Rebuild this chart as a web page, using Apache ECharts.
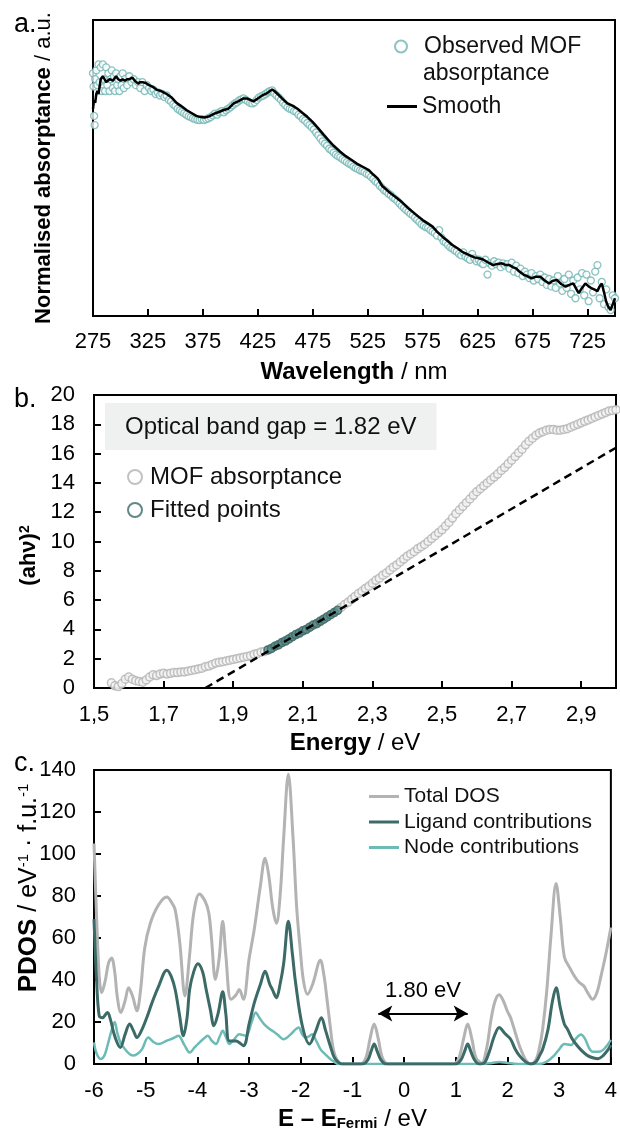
<!DOCTYPE html>
<html>
<head>
<meta charset="utf-8">
<script src="https://cdn.jsdelivr.net/npm/echarts@6/dist/echarts.min.js"></script>
<style>
  html, body { margin: 0; padding: 0; background: #fff; }
  #chart { width: 620px; height: 1132px; }
</style>
</head>
<body>
<div id="chart"></div>
<script>
// panel a: observed absorptance (wavelength nm, normalised) and smoothed trace
const wlTicks = [275, 325, 375, 425, 475, 525, 575, 625, 675, 725];
const observed = [
  [275,0.82],[275.5,0.775],[276,0.676],[276.5,0.645],[277,0.80],[278,0.83],[279,0.78],[280,0.85],[281,0.79],[282,0.84],
  [283,0.76],[284,0.85],[285,0.80],[286,0.76],[287,0.84],[288,0.78],[289,0.82],[290,0.76],[291,0.80],[292,0.83],
  [293,0.77],[294,0.81],[295,0.76],[296,0.82],[297,0.78],[298,0.80],[299,0.76],[300,0.81],[301,0.78],[302,0.82],
  [303,0.77],[304,0.80],[306,0.78],[308,0.81],[310,0.79],[312,0.80],[314,0.78],[316,0.79],[318,0.77],[320,0.79],
  [322,0.76],[324,0.78],[326,0.77],[328,0.76],[330,0.765],[332,0.75],[334,0.755],[336,0.745],[338,0.75],[340,0.74],
  [342,0.745],[344,0.73],[346,0.725],[348,0.715],[350,0.71],[352,0.70],[354,0.695],[356,0.69],[358,0.685],[360,0.68],
  [362,0.675],[364,0.672],[366,0.668],[368,0.665],[370,0.663],[372,0.662],[374,0.665],[376,0.662],[378,0.665],[380,0.668],
  [382,0.672],[384,0.678],[386,0.684],[388,0.68],[390,0.688],[392,0.692],[394,0.688],[396,0.695],[398,0.70],[400,0.705],
  [402,0.712],[404,0.718],[406,0.722],[408,0.728],[410,0.732],[412,0.735],[414,0.73],[416,0.725],[418,0.72],[420,0.718],
  [422,0.722],[424,0.73],[426,0.738],[428,0.742],[430,0.745],[432,0.75],[434,0.755],[436,0.76],[438,0.762],[440,0.752],
  [442,0.745],[444,0.738],[446,0.73],[448,0.72],[450,0.712],[452,0.705],[454,0.70],[456,0.698],[458,0.692],[460,0.69],
  [462,0.68],[464,0.675],[466,0.665],[468,0.66],[470,0.652],[472,0.645],[474,0.638],[476,0.63],[478,0.62],[480,0.61],
  [482,0.60],[484,0.59],[486,0.582],[488,0.575],[490,0.565],[492,0.56],[494,0.552],[496,0.545],[498,0.54],[500,0.536],
  [502,0.53],[504,0.525],[506,0.52],[508,0.515],[510,0.512],[512,0.505],[514,0.50],[516,0.497],[518,0.492],[520,0.49],
  [522,0.486],[524,0.48],[526,0.477],[528,0.47],[530,0.463],[532,0.455],[534,0.45],[536,0.44],[538,0.433],[540,0.425],
  [542,0.42],[544,0.413],[546,0.408],[548,0.40],[550,0.395],[552,0.388],[554,0.38],[556,0.372],[558,0.365],[560,0.358],
  [562,0.352],[564,0.345],[566,0.34],[568,0.332],[570,0.325],[572,0.318],[574,0.31],[576,0.305],[578,0.30],[580,0.298],
  [582,0.29],[584,0.285],[586,0.28],[588,0.272],[590,0.29],[592,0.265],[594,0.252],[596,0.248],[598,0.24],[600,0.232],
  [602,0.228],[604,0.222],[606,0.218],[608,0.21],[610,0.205],[612,0.215],[614,0.20],[616,0.195],[618,0.19],[620,0.21],
  [622,0.195],[624,0.185],[626,0.19],[628,0.18],[630,0.175],[632,0.19],[634,0.14],[636,0.178],[638,0.17],[640,0.185],
  [642,0.175],[644,0.18],[646,0.165],[648,0.178],[650,0.17],[652,0.175],[654,0.16],[656,0.18],[658,0.15],[660,0.17],
  [662,0.145],[664,0.16],[666,0.135],[668,0.15],[670,0.14],[672,0.128],[674,0.145],[676,0.12],[678,0.135],[680,0.125],
  [682,0.14],[684,0.115],[686,0.13],[688,0.105],[690,0.125],[692,0.10],[694,0.12],[696,0.095],[698,0.135],[700,0.11],
  [702,0.085],[704,0.125],[706,0.095],[708,0.14],[710,0.075],[712,0.12],[714,0.06],[716,0.13],[718,0.09],[720,0.145],
  [722,0.07],[724,0.14],[726,0.05],[728,0.12],[730,0.08],[732,0.15],[734,0.172],[736,0.06],[738,0.115],[740,0.04],
  [742,0.09],[744,0.03],[746,0.02],[748,0.07],[750,0.06]
];
const smoothed = [
  [275,0.70],[276,0.73],[277,0.72],[278,0.75],[279,0.76],[280,0.75],[282,0.80],[284,0.81],[285,0.815],[287,0.79],
  [288,0.785],[290,0.80],[291,0.80],[293,0.795],[296,0.81],[298,0.80],[300,0.795],[302,0.80],[304,0.795],[306,0.80],
  [308,0.80],[311,0.805],[313,0.795],[316,0.785],[318,0.79],[320,0.79],[323,0.787],[326,0.78],[329,0.775],[333,0.764],
  [337,0.76],[342,0.75],[346,0.74],[351,0.72],[355,0.71],[360,0.696],[365,0.685],[369,0.676],[373,0.672],[377,0.671],
  [381,0.675],[385,0.683],[390,0.69],[394,0.696],[398,0.70],[403,0.718],[407,0.725],[412,0.735],[415,0.735],[418,0.73],
  [421,0.725],[425,0.735],[429,0.745],[433,0.752],[436,0.76],[438,0.765],[440,0.76],[443,0.75],[447,0.735],[452,0.718],
  [457,0.71],[461,0.70],[466,0.685],[470,0.673],[475,0.655],[480,0.634],[485,0.612],[489,0.595],[494,0.575],[500,0.555],
  [505,0.54],[510,0.528],[515,0.515],[520,0.505],[526,0.493],[530,0.478],[534,0.465],[538,0.44],[544,0.42],[550,0.403],
  [556,0.385],[562,0.364],[568,0.345],[575,0.324],[580,0.312],[584,0.302],[588,0.285],[593,0.268],[597,0.256],[602,0.24],
  [607,0.228],[611,0.217],[616,0.208],[622,0.198],[626,0.195],[630,0.191],[635,0.18],[639,0.172],[643,0.176],[647,0.178],
  [651,0.172],[654,0.172],[657,0.165],[660,0.161],[663,0.15],[667,0.139],[670,0.135],[674,0.127],[678,0.133],[682,0.133],
  [686,0.12],[690,0.11],[693,0.118],[697,0.122],[701,0.108],[705,0.099],[709,0.106],[712,0.11],[715,0.09],[717,0.077],
  [720,0.095],[723,0.11],[726,0.10],[729,0.093],[732,0.088],[734,0.084],[736,0.10],[738,0.11],[740,0.08],[742,0.048],
  [744,0.03],[746,0.02],[748,0.04],[750,0.06]
];

// panel b: Tauc plot, energy eV vs (ahv)^2
const energyTicks = [1.5, 1.7, 1.9, 2.1, 2.3, 2.5, 2.7, 2.9];
const tauc = [
  [1.55,0.35],[1.56,0.15],[1.57,0.1],[1.58,0.3],[1.59,0.6],[1.60,0.75],[1.61,0.6],[1.62,0.5],[1.63,0.45],[1.64,0.4],
  [1.65,0.55],[1.66,0.75],[1.67,0.9],[1.68,0.85],[1.69,0.95],[1.70,1.0],[1.71,0.95],[1.72,1.0],[1.73,1.05],[1.74,1.05],
  [1.75,1.1],[1.76,1.1],[1.77,1.15],[1.78,1.2],[1.79,1.25],[1.80,1.3],[1.81,1.35],[1.82,1.45],[1.83,1.5],[1.84,1.6],
  [1.85,1.7],[1.86,1.75],[1.87,1.8],[1.88,1.85],[1.89,1.9],[1.90,1.95],[1.91,2.0],[1.92,2.05],[1.93,2.1],[1.94,2.15],
  [1.95,2.2],[1.96,2.3],[1.97,2.35],[1.98,2.45],[1.99,2.5],[2.00,2.6],[2.01,2.7],[2.02,2.85],[2.03,2.95],[2.04,3.1],
  [2.05,3.2],[2.06,3.35],[2.07,3.5],[2.08,3.65],[2.09,3.75],[2.10,3.9],[2.11,4.0],[2.12,4.15],[2.13,4.3],[2.14,4.4],
  [2.15,4.55],[2.16,4.7],[2.17,4.85],[2.18,5.0],[2.19,5.15],[2.20,5.3],[2.21,5.5],[2.22,5.7],[2.23,5.85],[2.24,6.05],
  [2.25,6.25],[2.26,6.45],[2.27,6.6],[2.28,6.8],[2.29,6.95],[2.30,7.15],[2.31,7.35],[2.32,7.5],[2.33,7.7],[2.34,7.85],
  [2.35,8.05],[2.36,8.25],[2.37,8.4],[2.38,8.6],[2.39,8.8],[2.40,9.0],[2.41,9.15],[2.42,9.3],[2.43,9.5],[2.44,9.65],
  [2.45,9.8],[2.46,10.0],[2.47,10.2],[2.48,10.4],[2.49,10.6],[2.50,10.8],[2.51,11.05],[2.52,11.3],[2.53,11.6],[2.54,11.9],
  [2.55,12.15],[2.56,12.4],[2.57,12.65],[2.58,12.9],[2.59,13.15],[2.60,13.4],[2.61,13.6],[2.62,13.8],[2.63,14.0],[2.64,14.2],
  [2.65,14.4],[2.66,14.6],[2.67,14.85],[2.68,15.05],[2.69,15.3],[2.70,15.55],[2.71,15.8],[2.72,16.05],[2.73,16.3],[2.74,16.6],
  [2.75,16.85],[2.76,17.05],[2.77,17.25],[2.78,17.4],[2.79,17.5],[2.80,17.6],[2.81,17.65],[2.82,17.65],[2.83,17.6],[2.84,17.6],
  [2.85,17.65],[2.86,17.7],[2.87,17.8],[2.88,17.9],[2.89,18.0],[2.90,18.1],[2.91,18.2],[2.92,18.3],[2.93,18.4],[2.94,18.5],
  [2.95,18.6],[2.96,18.7],[2.97,18.8],[2.98,18.9],[2.99,18.95],[3.00,19.0]
];
const fitRange = [2.0, 2.2];
const fitLine = [[1.82, 0], [3.0, 16.4]];
const bandGapText = 'Optical band gap = 1.82 eV';

// panel c: projected density of states
const totalDos = [
  [-6.0,105],[-5.95,70],[-5.9,42],[-5.85,34],[-5.78,40],[-5.72,48],[-5.66,50.5],[-5.6,44],[-5.55,32],[-5.48,24.5],
  [-5.4,30],[-5.33,36.3],[-5.25,32],[-5.17,25.3],[-5.1,35],[-5.02,55],[-4.91,67],[-4.75,75.8],[-4.59,79.5],[-4.5,77],
  [-4.43,73.5],[-4.34,57.7],[-4.24,32.4],[-4.15,52],[-4.07,72],[-3.96,81],[-3.85,77.5],[-3.78,72],[-3.73,60.8],[-3.65,40.3],
  [-3.58,50],[-3.51,68],[-3.45,52],[-3.35,30.8],[-3.25,33],[-3.19,35.5],[-3.11,30.8],[-3.0,50],[-2.9,64],[-2.78,85],
  [-2.69,98],[-2.62,90],[-2.54,74],[-2.47,67],[-2.4,80],[-2.33,108],[-2.24,138],[-2.15,108],[-2.08,75],[-2.01,54.5],
  [-1.95,40],[-1.87,33.2],[-1.77,38],[-1.62,49.4],[-1.55,42],[-1.5,32.4],[-1.43,18],[-1.37,7],[-1.3,2],[-1.2,0],
  [-0.85,0],[-0.74,3],[-0.66,12],[-0.58,19],[-0.5,12],[-0.42,3],[-0.3,0],[0.95,0],[1.06,3],[1.15,12],
  [1.23,19],[1.31,12],[1.39,3],[1.5,0.5],[1.6,8],[1.68,21],[1.76,30],[1.84,33],[1.92,30],[2.0,25],
  [2.06,22],[2.15,15],[2.23,8.7],[2.35,2],[2.45,0],[2.55,2],[2.62,8],[2.68,16.6],[2.76,35],[2.84,60.8],
  [2.94,86],[3.02,70],[3.1,51],[3.2,46],[3.29,42],[3.38,39],[3.48,37],[3.55,34],[3.65,30.8],[3.73,34],
  [3.81,42],[3.9,52],[4.0,65]
];
const ligandDos = [
  [-6.0,69],[-5.95,40],[-5.9,23],[-5.84,22],[-5.74,24.5],[-5.68,21],[-5.62,15],[-5.55,10],[-5.49,7.9],[-5.4,14],
  [-5.31,19],[-5.24,16],[-5.17,12.6],[-5.08,16],[-4.98,22],[-4.88,29],[-4.75,37],[-4.59,44.7],[-4.51,42],[-4.43,35.5],
  [-4.35,24],[-4.27,13.4],[-4.2,22],[-4.15,35.5],[-4.07,44],[-3.99,47.7],[-3.9,44],[-3.83,35.5],[-3.75,26],[-3.68,18.2],
  [-3.6,24],[-3.51,34.4],[-3.45,24],[-3.38,11],[-3.25,11],[-3.11,8.7],[-3.0,19],[-2.9,29],[-2.78,38],[-2.69,44.2],
  [-2.6,38],[-2.55,35.5],[-2.47,31.6],[-2.4,38],[-2.33,48],[-2.24,68],[-2.16,52],[-2.1,38.7],[-1.97,18.2],[-1.83,9.5],
  [-1.72,15],[-1.6,22],[-1.52,16],[-1.43,8.7],[-1.35,3],[-1.27,0.8],[-1.2,0],[-0.8,0],[-0.7,2],[-0.64,6],
  [-0.58,9.5],[-0.52,6],[-0.45,2],[-0.35,0],[1.0,0],[1.1,2],[1.17,6],[1.23,9.5],[1.29,6],[1.36,2],
  [1.45,0],[1.55,0.5],[1.65,6],[1.74,13],[1.84,17.4],[1.95,14.5],[2.06,11.8],[2.15,7],[2.23,4],[2.35,1],
  [2.45,0],[2.55,1],[2.62,4],[2.68,7],[2.78,16],[2.87,30],[2.94,36.3],[3.02,27],[3.1,19],[3.16,16.6],
  [3.25,12],[3.35,8.7],[3.45,6],[3.55,4],[3.65,3],[3.75,2.5],[3.85,4],[3.95,7],[4.0,9]
];
const nodeDos = [
  [-6.0,10.3],[-5.95,5],[-5.87,2.4],[-5.8,4],[-5.74,8.7],[-5.66,16],[-5.6,20],[-5.55,15],[-5.49,10.3],[-5.4,7],
  [-5.3,4.5],[-5.23,4],[-5.15,5],[-5.07,7.1],[-4.95,12.6],[-4.85,10.5],[-4.75,9.5],[-4.6,11],[-4.45,12.5],[-4.37,13.4],
  [-4.25,9],[-4.15,5.5],[-4.05,8],[-3.99,9.5],[-3.88,12],[-3.8,13.4],[-3.72,11],[-3.64,9.5],[-3.57,13],[-3.51,15.8],
  [-3.45,13],[-3.38,9.5],[-3.28,12],[-3.19,14.2],[-3.06,13.4],[-2.95,20],[-2.87,24.5],[-2.8,22],[-2.71,19],[-2.62,17],
  [-2.55,15.8],[-2.45,14],[-2.33,11.8],[-2.2,14],[-2.1,16.5],[-2.04,17.4],[-1.97,14],[-1.91,12.6],[-1.85,13],[-1.78,14.2],
  [-1.7,11],[-1.62,7.1],[-1.52,4.5],[-1.43,2.4],[-1.35,1],[-1.27,0],[1.5,0],[1.7,0.5],[1.84,1],[2.0,0.5],
  [2.2,0],[2.6,0],[2.75,1],[2.9,4],[3.0,7],[3.1,9.5],[3.23,9],[3.32,12],[3.42,14],[3.5,12],
  [3.58,7.5],[3.65,5.8],[3.8,6],[3.9,8],[4.0,11.5]
];
const gapArrow = [[-0.5, 24], [1.23, 24]];
const gapText = '1.80 eV';

const FONT = "'Liberation Sans', Arial, sans-serif";
const C_TEAL = '#6fb4b1';
const C_DARK = '#3b6a67';
const C_GREY = '#b3b3b3';
const C_NODE = '#6cbbb7';

const fitted = tauc.filter(p => p[0] >= fitRange[0] - 1e-9 && p[0] <= fitRange[1] + 1e-9);

const axisLine = { show: true, onZero: false, lineStyle: { color: '#000', width: 2 } };
const tick = { show: true, inside: true, length: 7, lineStyle: { color: '#000', width: 2 } };
const lab = { color: '#000', fontSize: 22, fontFamily: FONT };
const nameStyle = (extra) => Object.assign({ color: '#000', fontSize: 24, fontFamily: FONT }, extra);
const bold = (size) => ({ fontWeight: 'bold', fontSize: size, fontFamily: FONT, color: '#000' });

const chart = echarts.init(document.getElementById('chart'), null, { renderer: 'canvas' });

chart.setOption({
  animation: false,
  backgroundColor: '#fff',
  textStyle: { fontFamily: FONT },
  title: [
    { text: 'a.', left: 9, top: 6, textStyle: { fontSize: 27, fontWeight: 'normal', color: '#000', fontFamily: FONT } },
    { text: 'b.', left: 9, top: 381, textStyle: { fontSize: 27, fontWeight: 'normal', color: '#000', fontFamily: FONT } },
    { text: 'c.', left: 9, top: 745, textStyle: { fontSize: 27, fontWeight: 'normal', color: '#000', fontFamily: FONT } },
    {
      text: bandGapText, left: 105, top: 403,
      backgroundColor: '#eef1ef', padding: [12, 20, 11, 20],
      textStyle: { fontSize: 24, fontWeight: 'normal', color: '#111', fontFamily: FONT }
    }
  ],
  graphic: [
    { type: 'text', left: 423, top: 62, silent: true,
      style: { text: 'absorptance', fontSize: 23, fontFamily: FONT, fill: '#111' } }
  ],
  legend: [
    {
      data: [{ name: 'Observed MOF absorptance', icon: 'circle',
        itemStyle: { color: '#fff', borderColor: C_TEAL, borderWidth: 2 } }],
      left: 389, top: 30, itemWidth: 36, itemHeight: 12,
      formatter: () => 'Observed MOF',
      textStyle: { fontSize: 23, lineHeight: 23, color: '#111', fontFamily: FONT },
      selectedMode: false
    },
    {
      data: [{ name: 'Smooth', icon: 'rect', itemStyle: { color: '#000' } }],
      left: 382, top: 90, itemWidth: 30, itemHeight: 3,
      textStyle: { fontSize: 23, lineHeight: 23, color: '#111', fontFamily: FONT },
      selectedMode: false
    },
    {
      data: [
        { name: 'MOF absorptance', icon: 'circle', itemStyle: { color: '#fff', borderColor: C_GREY, borderWidth: 2 } },
        { name: 'Fitted points', icon: 'circle', itemStyle: { color: '#fff', borderColor: C_DARK, borderWidth: 2 } }
      ],
      orient: 'vertical', left: 122, top: 460, itemWidth: 20, itemHeight: 14, itemGap: 9,
      textStyle: { fontSize: 24, lineHeight: 24, color: '#111', fontFamily: FONT },
      selectedMode: false
    },
    {
      data: [
        { name: 'Total DOS', icon: 'rect', itemStyle: { color: C_GREY } },
        { name: 'Ligand contributions', icon: 'rect', itemStyle: { color: C_DARK } },
        { name: 'Node contributions', icon: 'rect', itemStyle: { color: C_NODE } }
      ],
      orient: 'vertical', left: 364, top: 781, itemWidth: 30, itemHeight: 3, itemGap: 4.5,
      textStyle: { fontSize: 21, lineHeight: 21, color: '#111', fontFamily: FONT },
      selectedMode: false
    }
  ],
  grid: [
    { left: 93, right: 5, top: 20, height: 296, show: true, borderColor: '#000', borderWidth: 2, containLabel: false },
    { left: 94, right: 4, top: 395, height: 293, show: true, borderColor: '#000', borderWidth: 2, containLabel: false },
    { left: 94, right: 4, top: 770, height: 295, show: true, borderColor: '#000', borderWidth: 2, containLabel: false }
  ],
  xAxis: [
    {
      gridIndex: 0, type: 'value', min: 275, max: 750,
      axisLine, splitLine: { show: false },
      axisTick: Object.assign({}, tick, { customValues: wlTicks }),
      axisLabel: Object.assign({}, lab, { margin: 15, customValues: wlTicks }),
      name: '{b|Wavelength} / nm', nameLocation: 'middle', nameGap: 44,
      nameTextStyle: nameStyle({ rich: { b: bold(24) } })
    },
    {
      gridIndex: 1, type: 'value', min: 1.5, max: 3.0,
      axisLine, splitLine: { show: false },
      axisTick: Object.assign({}, tick, { customValues: energyTicks }),
      axisLabel: Object.assign({}, lab, { margin: 16, customValues: energyTicks,
        formatter: v => v.toFixed(1).replace('.', ',') }),
      name: '{b|Energy} / eV', nameLocation: 'middle', nameGap: 43,
      nameTextStyle: nameStyle({ rich: { b: bold(24) } })
    },
    {
      gridIndex: 2, type: 'value', min: -6, max: 4, interval: 1,
      axisLine, splitLine: { show: false }, axisTick: tick,
      axisLabel: Object.assign({}, lab, { margin: 16 }),
      name: '{b|E – E}{sub|Fermi}{n| / eV}', nameLocation: 'middle', nameGap: 43,
      nameTextStyle: nameStyle({ rich: {
        b: bold(24),
        sub: Object.assign(bold(15), { verticalAlign: 'bottom', padding: [9, 0, 0, 0] }),
        n: { fontSize: 24, fontFamily: FONT, color: '#000' }
      } })
    }
  ],
  yAxis: [
    {
      gridIndex: 0, type: 'value', min: 0, max: 1,
      axisLine, splitLine: { show: false }, axisTick: { show: false }, axisLabel: { show: false },
      name: '{b|Normalised absorptance} / a.u.', nameLocation: 'middle', nameGap: 38, nameRotate: 90,
      nameTextStyle: nameStyle({ fontSize: 22, rich: { b: bold(22) } })
    },
    {
      gridIndex: 1, type: 'value', min: 0, max: 20, interval: 2,
      axisLine, splitLine: { show: false }, axisTick: tick,
      axisLabel: Object.assign({}, lab, { margin: 19 }),
      name: '{b|(ahν)}{s|2}', nameLocation: 'middle', nameGap: 54, nameRotate: 90,
      nameMoveOverlap: false,
      nameTextStyle: nameStyle({ fontSize: 22, padding: [0, 28, 0, 0], rich: {
        b: bold(22),
        s: Object.assign(bold(14), { verticalAlign: 'top' })
      } })
    },
    {
      gridIndex: 2, type: 'value', min: 0, max: 140, interval: 20,
      axisLine, splitLine: { show: false }, axisTick: tick,
      axisLabel: Object.assign({}, lab, { margin: 18 }),
      name: '{b|PDOS} / eV{s|-1} · f.u.{s|-1}', nameLocation: 'middle', nameGap: 52, nameRotate: 90,
      nameMoveOverlap: false,
      nameTextStyle: nameStyle({ fontSize: 25, padding: [0, 0, 0, 58], rich: {
        b: bold(26),
        s: { fontSize: 15, fontFamily: FONT, color: '#000', verticalAlign: 'top' }
      } })
    }
  ],
  series: [
    {
      name: 'Observed MOF absorptance', type: 'scatter', xAxisIndex: 0, yAxisIndex: 0,
      data: observed, symbol: 'circle', symbolSize: 7,
      itemStyle: { color: '#fff', borderColor: C_TEAL, borderWidth: 1.3 }
    },
    {
      name: 'Smooth', type: 'line', xAxisIndex: 0, yAxisIndex: 0,
      data: smoothed, showSymbol: false, symbol: 'none',
      lineStyle: { color: '#000', width: 2.5 }, itemStyle: { color: '#000' }
    },
    {
      name: 'MOF absorptance', type: 'scatter', xAxisIndex: 1, yAxisIndex: 1,
      data: tauc, symbol: 'circle', symbolSize: 8,
      itemStyle: { color: '#f4f4f4', borderColor: C_GREY, borderWidth: 1.5 }
    },
    {
      name: 'Fitted points', type: 'scatter', xAxisIndex: 1, yAxisIndex: 1,
      data: fitted, symbol: 'circle', symbolSize: 8,
      itemStyle: { color: '#5a8a87', borderColor: C_DARK, borderWidth: 1.5 }
    },
    {
      name: 'Fit', type: 'line', xAxisIndex: 1, yAxisIndex: 1,
      data: fitLine, showSymbol: false, symbol: 'none', z: 5,
      lineStyle: { color: '#000', width: 2.5, type: [8, 5] }
    },
    {
      name: 'Total DOS', type: 'line', xAxisIndex: 2, yAxisIndex: 2,
      data: totalDos, showSymbol: false, symbol: 'none', smooth: 0.35,
      lineStyle: { color: C_GREY, width: 3 }, itemStyle: { color: C_GREY }
    },
    {
      name: 'Node contributions', type: 'line', xAxisIndex: 2, yAxisIndex: 2,
      data: nodeDos, showSymbol: false, symbol: 'none', smooth: 0.35,
      lineStyle: { color: C_NODE, width: 2.5 }, itemStyle: { color: C_NODE }
    },
    {
      name: 'Ligand contributions', type: 'line', xAxisIndex: 2, yAxisIndex: 2,
      data: ligandDos, showSymbol: false, symbol: 'none', smooth: 0.35,
      lineStyle: { color: C_DARK, width: 3 }, itemStyle: { color: C_DARK },
      markLine: {
        silent: true, symbol: ['arrow', 'arrow'], symbolSize: [12, 14],
        lineStyle: { color: '#000', width: 2, type: 'solid' },
        label: { show: true, position: 'insideMiddleTop', distance: 12, formatter: gapText,
          fontSize: 22, color: '#000', fontFamily: FONT },
        data: [[{ coord: gapArrow[0] }, { coord: gapArrow[1] }]]
      }
    }
  ]
});
</script>
</body>
</html>
